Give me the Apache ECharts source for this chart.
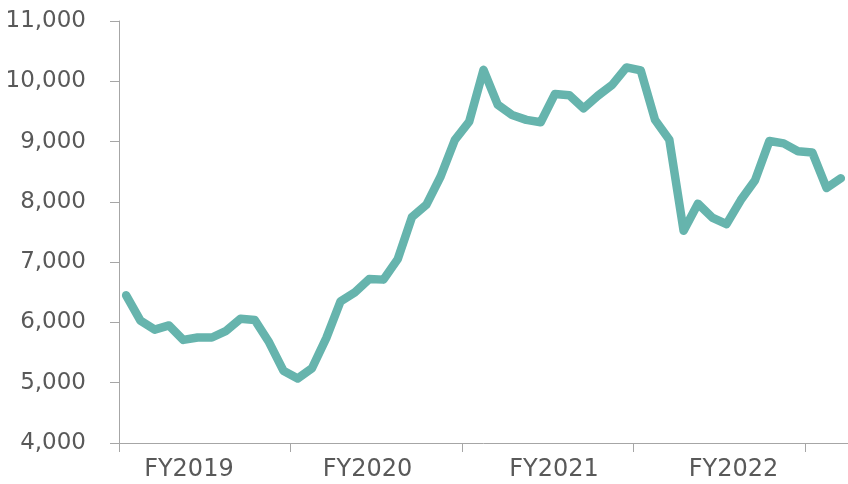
<!DOCTYPE html>
<html>
<head>
<meta charset="utf-8">
<script src="https://cdn.jsdelivr.net/npm/echarts@6/dist/echarts.min.js"></script>
<style>
  html, body { margin: 0; padding: 0; background: #fff; }
  #chart { width: 848px; height: 484px; }
</style>
</head>
<body>
<div id="chart"></div>
<script>
// fiscal years, April to March
const fiscalYears = ['FY2019', 'FY2020', 'FY2021', 'FY2022', 'FY2023'];
const monthNames = ['Apr', 'May', 'Jun', 'Jul', 'Aug', 'Sep', 'Oct', 'Nov', 'Dec', 'Jan', 'Feb', 'Mar'];

// monthly values
const fy2019 = [6450, 6030, 5880, 5950, 5710, 5750, 5750, 5860, 6060, 6040, 5670, 5200];
const fy2020 = [5070, 5240, 5740, 6350, 6500, 6720, 6710, 7050, 7750, 7950, 8420, 9030];
const fy2021 = [9330, 10190, 9610, 9440, 9360, 9320, 9790, 9770, 9550, 9760, 9940, 10230];
const fy2022 = [10180, 9360, 9030, 7520, 7970, 7740, 7630, 8030, 8360, 9010, 8970, 8840];
const fy2023 = [8820, 8230, 8390];

const yearValues = [fy2019, fy2020, fy2021, fy2022, fy2023];
const categories = [];
const values = [];
yearValues.forEach(function (arr, y) {
  arr.forEach(function (v, m) {
    categories.push(fiscalYears[y] + ' ' + monthNames[m]);
    values.push(v);
  });
});

const chart = echarts.init(document.getElementById('chart'));
const textColor = '#595959';
const axisColor = '#a6a6a6';
const font = 'Verdana, "DejaVu Sans", sans-serif';

// the year labels are not quite centred on their year in the original
const labelShift = [-23, -16, -1, 7];
const rich = {};
labelShift.forEach(function (s, i) {
  rich['y' + i] = {
    color: textColor, fontFamily: font, fontSize: 24,
    padding: s < 0 ? [0, -2 * s, 0, 0] : [0, 0, 0, 2 * s]
  };
});

chart.setOption({
  animation: false,
  grid: { left: 119, right: -4, top: 21, bottom: 41 },
  xAxis: {
    type: 'category',
    data: categories,
    boundaryGap: true,
    axisLine: { lineStyle: { color: axisColor, width: 1 } },
    axisTick: {
      show: true,
      length: 9,
      lineStyle: { color: axisColor },
      interval: 11
    },
    axisLabel: {
      interval: function (index) { return index % 12 === 6; },
      margin: 15,
      color: textColor,
      fontFamily: font,
      fontSize: 24,
      formatter: function (value) {
        const fy = value.split(' ')[0];
        return '{y' + fiscalYears.indexOf(fy) + '|' + fy + '}';
      },
      rich: rich
    },
    splitLine: { show: false }
  },
  yAxis: {
    type: 'value',
    min: 4000,
    max: 11000,
    interval: 1000,
    axisLine: { show: true, lineStyle: { color: axisColor, width: 1 } },
    axisTick: { show: true, length: 9, lineStyle: { color: axisColor } },
    axisLabel: {
      margin: 33,
      color: textColor,
      fontFamily: font,
      fontSize: 23,
      formatter: function (v) { return v.toLocaleString('en-US'); }
    },
    splitLine: { show: false }
  },
  series: [{
    type: 'line',
    data: values,
    symbol: 'none',
    lineStyle: { color: '#66b4ad', width: 8.5, join: 'round', cap: 'round' },
    clip: false
  }]
});
</script>
</body>
</html>
